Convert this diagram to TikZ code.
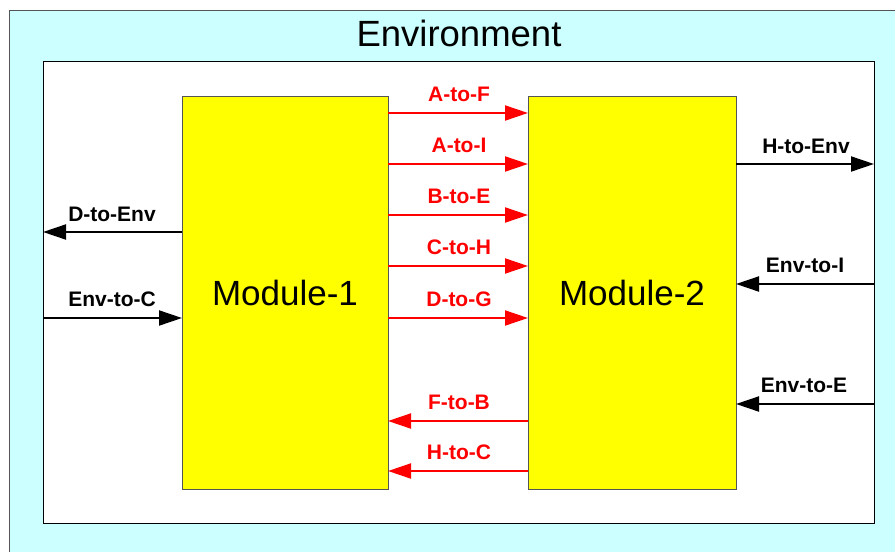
\documentclass[tikz,border=0pt]{standalone}
\usepackage{fontspec}
\setmainfont{Liberation Sans}
\usetikzlibrary{arrows.meta}
\definecolor{envcyan}{HTML}{CCFFFF}
\definecolor{modyellow}{HTML}{FFFF00}
\definecolor{flowred}{HTML}{FF0000}
\definecolor{edgegray}{HTML}{555555}
\tikzset{
  modbox/.style={draw=edgegray, line width=1pt, fill=modyellow, inner sep=0pt, outer sep=0pt,
    font=\fontsize{35}{37}\selectfont},
  envbox/.style={draw=black, line width=1pt, fill=white, inner sep=0pt, outer sep=0pt},
  flow/.style={line width=2pt, -{Triangle[length=23pt, width=15pt]}},
  redflow/.style={flow, draw=flowred},
  blackflow/.style={flow, draw=black},
  flowlabel/.style={font=\bfseries\fontsize{21}{23}\selectfont, anchor=base, inner sep=0pt},
  redlabel/.style={flowlabel, text=flowred},
}
\begin{document}
\begin{tikzpicture}[x=1pt,y=-1pt]
\useasboundingbox (0,0) rectangle (895,552);
\clip (0,0) rectangle (895,552);
% outer environment
\fill[envcyan] (9,10) rectangle (900,560);
\draw[edgegray, line width=1pt] (9,560) -- (9,10) -- (900,10);
\node[font=\fontsize{36.5}{38}\selectfont, anchor=base, inner sep=0pt] (envtitle) at (459,46) {Environment};
% inner area
\node[envbox, minimum width=831pt, minimum height=462pt] (env) at (458.5,292) {};
% modules
\node[modbox, minimum width=206pt, minimum height=393pt] (m1) at (285,292.5) {Module-1};
\node[modbox, minimum width=208pt, minimum height=393pt] (m2) at (632,292.5) {Module-2};
% red flows M1 -> M2
\foreach \yy/\lab in {113/A-to-F, 164/A-to-I, 215/B-to-E, 266/C-to-H, 318/D-to-G}{
  \draw[redflow] (m1.east |- 0,\yy) -- (m2.west |- 0,\yy);
  \node[redlabel] at (459,\yy-12) {\lab};
}
% red flows M2 -> M1
\foreach \yy/\lab in {421/F-to-B, 471/H-to-C}{
  \draw[redflow] (m2.west |- 0,\yy) -- (m1.east |- 0,\yy);
  \node[redlabel] at (459,\yy-12) {\lab};
}
% environment flows, left
\draw[blackflow] (m1.west |- 0,232) -- (env.west |- 0,232);
\node[flowlabel] (ldenv) at (112,221) {D-to-Env};
\draw[blackflow] (env.west |- 0,318) -- (m1.west |- 0,318);
\node[flowlabel] (lenvc) at (112,306) {Env-to-C};
% environment flows, right
\draw[blackflow] (m2.east |- 0,164) -- (env.east |- 0,164);
\node[flowlabel] (lhenv) at (806,153) {H-to-Env};
\draw[blackflow] (env.east |- 0,284) -- (m2.east |- 0,284);
\node[flowlabel] (lenvi) at (805,272) {Env-to-I};
\draw[blackflow] (env.east |- 0,404) -- (m2.east |- 0,404);
\node[flowlabel] (lenve) at (804,392) {Env-to-E};
\end{tikzpicture}
\end{document}
